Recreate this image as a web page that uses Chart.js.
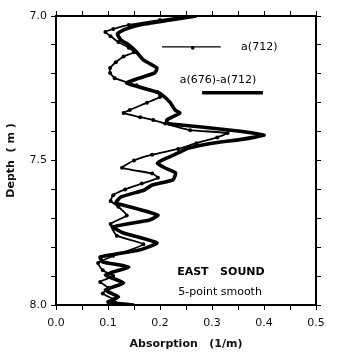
<!DOCTYPE html>
<html>
<head>
<meta charset="utf-8">
<script src="https://cdn.jsdelivr.net/npm/chart.js@4/dist/chart.umd.min.js"></script>
<style>
html,body{margin:0;padding:0;background:#fff;}
#wrap{width:344px;height:359px;position:relative;}
</style>
</head>
<body>
<div id="wrap"><canvas id="c" width="344" height="359"></canvas></div>
<script>
// a(676)-a(712) (thick line)
const depthThick = [7.000,7.014,7.031,7.048,7.062,7.083,7.100,7.125,7.152,7.180,7.197,7.215,7.232,7.263,7.273,7.298,7.325,7.336,7.360,7.372,7.384,7.398,7.412,7.426,7.440,7.457,7.474,7.498,7.509,7.526,7.543,7.567,7.585,7.602,7.626,7.647,7.664,7.689,7.706,7.730,7.751,7.785,7.810,7.834,7.851,7.868,7.896,7.924,7.948,7.972,7.990,8.000];
const absThick   = [0.270,0.220,0.160,0.130,0.118,0.125,0.140,0.155,0.168,0.194,0.190,0.160,0.136,0.194,0.204,0.219,0.229,0.238,0.213,0.215,0.280,0.350,0.400,0.360,0.300,0.255,0.235,0.205,0.195,0.210,0.230,0.225,0.185,0.170,0.125,0.115,0.150,0.196,0.180,0.110,0.130,0.194,0.160,0.085,0.090,0.140,0.095,0.130,0.095,0.120,0.100,0.150];
// a(712) (thin line with dots)
const depthThin = [7.000,7.014,7.031,7.045,7.055,7.070,7.090,7.110,7.125,7.140,7.160,7.180,7.197,7.215,7.240,7.263,7.280,7.300,7.325,7.336,7.350,7.360,7.372,7.395,7.405,7.420,7.440,7.460,7.480,7.500,7.525,7.545,7.560,7.580,7.600,7.620,7.640,7.660,7.690,7.720,7.760,7.790,7.830,7.855,7.880,7.900,7.920,7.940,7.960,7.980,8.000];
const absThin   = [0.250,0.200,0.140,0.110,0.095,0.105,0.120,0.140,0.150,0.130,0.115,0.104,0.104,0.113,0.155,0.194,0.200,0.175,0.142,0.130,0.162,0.187,0.210,0.258,0.330,0.310,0.270,0.235,0.185,0.150,0.127,0.185,0.196,0.165,0.133,0.110,0.105,0.120,0.136,0.105,0.117,0.168,0.110,0.081,0.090,0.110,0.085,0.100,0.090,0.110,0.120];
const xTickLabels = ['0.0','0.1','0.2','0.3','0.4','0.5'];
const yTickLabels = ['7.0','7.5','8.0'];
const seriesNames = ['a(712)','a(676)-a(712)'];
const noteLines = ['EAST   SOUND','5-point smooth'];

const toPts = (ds, xs) => ds.map((d,i)=>({x:xs[i], y:d}));
const FONT = '"DejaVu Sans", sans-serif';

const annot = {
  id:'annot',
  afterDatasetsDraw(chart){
    const c = chart.ctx, X = chart.scales.x, Y = chart.scales.y;
    const px = v=>X.getPixelForValue(v), py = v=>Y.getPixelForValue(v);
    c.save();
    c.fillStyle='#000'; c.strokeStyle='#000';
    c.textBaseline='middle'; c.textAlign='left';
    // legend 1
    c.lineWidth=1.3;
    c.beginPath(); c.moveTo(px(0.204),py(7.107)); c.lineTo(px(0.317),py(7.107)); c.stroke();
    c.beginPath(); c.arc(px(0.263),py(7.107)+1,1.8,0,Math.PI*2); c.fill();
    c.font='11px '+FONT;
    c.fillText(seriesNames[0], px(0.356), py(7.107));
    // legend 2
    c.fillText(seriesNames[1], px(0.238), py(7.221));
    c.lineWidth=3.5;
    c.beginPath(); c.moveTo(px(0.281),py(7.266)); c.lineTo(px(0.398),py(7.266)); c.stroke();
    // notes
    c.font='bold 11px '+FONT;
    c.fillText(noteLines[0], px(0.233), py(7.886));
    c.font='11px '+FONT;
    c.fillText(noteLines[1], px(0.235), py(7.955));
    c.restore();
  }
};

const tickFont = {family:FONT, size:11};
const axisCommon = {
  grid:{drawOnChartArea:false, drawTicks:true, tickLength:5, color:'#000', lineWidth:1},
  border:{display:true, color:'#000', width:2}
};

new Chart(document.getElementById('c'), {
  type:'scatter',
  data:{datasets:[
    {label:seriesNames[1], data:toPts(depthThick,absThick), showLine:true, borderColor:'#000', backgroundColor:'#000', borderWidth:3.6, pointRadius:0, tension:0.15, order:2},
    {label:seriesNames[0], data:toPts(depthThin,absThin), showLine:true, borderColor:'#000', backgroundColor:'#000', borderWidth:1.8, pointRadius:2, pointBorderWidth:0, tension:0.15, order:1}
  ]},
  options:{
    responsive:false, animation:false,
    layout:{padding:0},
    plugins:{legend:{display:false}, tooltip:{enabled:false}},
    scales:{
      x:{type:'linear', position:'bottom', min:0, max:0.5,
        ticks:{stepSize:0.05, autoSkip:false, maxRotation:0, padding:7, color:'#111', font:tickFont,
          callback:(v)=>{const k=Math.round(v*100); return k%10===0 ? xTickLabels[k/10] : '';}},
        title:{display:true, text:'Absorption   (1/m)', color:'#111', font:{family:FONT, size:11, weight:'bold'}, padding:{top:2,bottom:8}},
        afterFit:(s)=>{s.height=54;},
        ...axisCommon},
      x2:{type:'linear', axis:'x', position:'top', min:0, max:0.5,
        ticks:{stepSize:0.05, autoSkip:false, maxRotation:0, padding:0, callback:()=>''},
        afterFit:(s)=>{s.height=16;},
        ...axisCommon},
      y:{type:'linear', position:'left', min:7, max:8, reverse:true,
        ticks:{stepSize:0.1, autoSkip:false, padding:4, color:'#111', font:tickFont,
          callback:(v)=>{const k=Math.round(v*10); return k===70?yTickLabels[0]:k===75?yTickLabels[1]:k===80?yTickLabels[2]:'';}},
        title:{display:true, text:'Depth  ( m )', color:'#111', font:{family:FONT, size:11, weight:'bold'}, padding:{top:5,bottom:4}},
        afterFit:(s)=>{s.width=56;},
        ...axisCommon},
      y2:{type:'linear', axis:'y', position:'right', min:7, max:8, reverse:true,
        ticks:{stepSize:0.1, autoSkip:false, padding:0, callback:()=>''},
        afterFit:(s)=>{s.width=28;},
        ...axisCommon}
    }
  },
  plugins:[annot]
});
</script>
</body>
</html>
